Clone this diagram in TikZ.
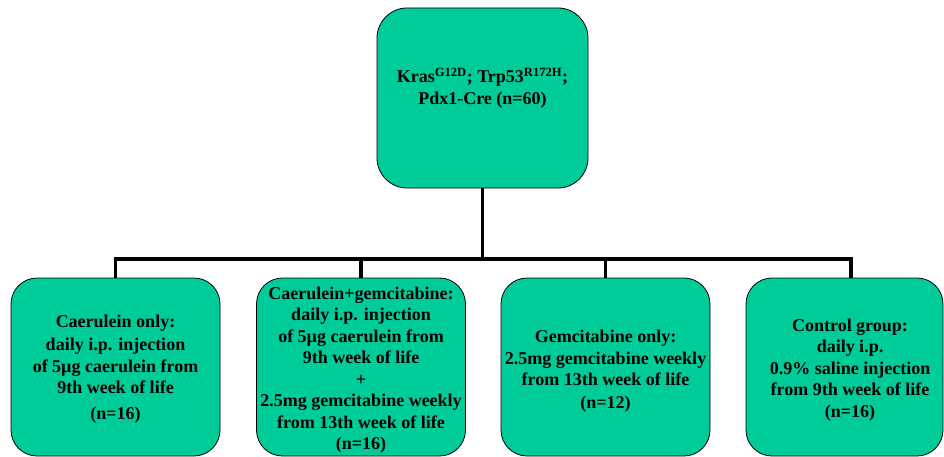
\documentclass[tikz,border=0pt]{standalone}
\usepackage{fontspec}
\setmainfont{Liberation Serif}
\definecolor{boxgreen}{RGB}{0,204,153}
\begin{document}
\begin{tikzpicture}[x=1pt,y=-1pt,
  box/.style={draw=black, line width=0.8pt, fill=boxgreen, inner sep=0pt},
  topbox/.style={box, rounded corners=30pt, minimum width=211pt, minimum height=180pt},
  armbox/.style={box, rounded corners=26pt, minimum width=209pt, minimum height=178pt},
  txt/.style={align=center, inner sep=0pt, font=\fontsize{18}{21.5}\selectfont\bfseries},
  conn/.style={line width=3.8pt, line join=miter, line cap=butt}]
\useasboundingbox (0,0) rectangle (944,457);
% boxes
\node[topbox] (top) at (482.5,98) {};
\node[armbox] (b1) at (115.5,367) {};
\node[armbox] (b2) at (361,367) {};
\node[armbox] (b3) at (605.5,367) {};
\node[armbox, minimum width=197pt] (b4) at (844.5,367) {};
% texts
\node[txt] (t0) at (482.5,88) {Kras\textsuperscript{G12D}; Trp53\textsuperscript{R172H};\\Pdx1-Cre (n=60)};
\node[txt] (t1) at (115.5,369) {Caerulein only:\\[1.5pt]daily i.p. injection\\of 5µg caerulein from\\9th week of life\\[4pt](n=16)};
\node[txt] (t2) at (361,370) {Caerulein+gemcitabine:\\daily i.p. injection\\of 5µg caerulein from\\9th week of life\\+\\2.5mg gemcitabine weekly\\from 13th week of life\\(n=16)};
\node[txt] (t3) at (605.5,371) {Gemcitabine only:\\2.5mg gemcitabine weekly\\from 13th week of life\\[1pt](n=12)};
\node[txt] (t4) at (850,370) {Control group:\\daily i.p.\\0.9\% saline injection\\from 9th week of life\\(n=16)};
% connectors
\coordinate (bus) at (483,259);
\coordinate (bus4) at (851,259);
\draw[conn] (b1.north) -- (b1.north |- bus) -- (bus4) -- (bus4 |- b4.north);
\draw[conn] (top.south) -- (top.south |- bus);
\draw[conn] (b2.north) -- (b2.north |- bus);
\draw[conn] (b3.north) -- (b3.north |- bus);
\end{tikzpicture}
\end{document}
